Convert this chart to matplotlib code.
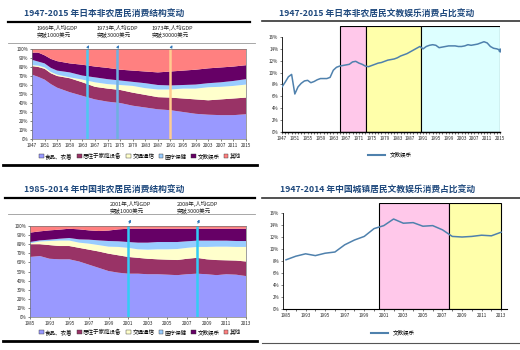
import matplotlib
matplotlib.use('Agg')
import matplotlib.pyplot as plt
from matplotlib.patches import Patch
from matplotlib.lines import Line2D
import numpy as np

plt.rcParams['font.family'] = ['Noto Sans CJK SC', 'DejaVu Sans']

# ---------------- data ----------------
cat_names = ['食品、衣着', '居住于家庭设备', '交通通信', '医疗保健', '文教娱乐', '其他']

jp_years = [1947, 1949, 1951, 1953, 1955, 1959, 1963, 1967, 1971, 1975, 1979,
            1983, 1987, 1991, 1995, 1999, 2003, 2007, 2011, 2015]
jp_food = [71.5, 69, 66, 61, 57, 52, 48, 44, 41.5, 40, 37, 35, 33, 32, 30, 28, 27, 26.5, 26.5, 27.5]
jp_housing = [9.5, 11, 12, 12, 13, 15.5, 15, 14, 14.5, 14.5, 14.5, 14, 13.5, 14, 15, 16, 16, 17.5, 18.5, 18.5]
jp_transport = [1, 1.5, 1.5, 1.5, 1.5, 1, 3, 5, 5, 5.5, 7.5, 7.5, 8.5, 9, 11, 12, 14.5, 14, 14, 14.5]
jp_medical = [6, 4.5, 4.5, 4.5, 4.5, 5.5, 4.5, 5.5, 5.5, 5, 4.5, 5.5, 5, 4.5, 4, 4.5, 4.5, 5, 5.5, 6]
jp_culture = [8, 10, 9, 10, 10.5, 10, 12, 12, 12.5, 12, 12.5, 13, 14, 15.5, 16, 16.5, 16.5, 16.5, 16, 15.5]
jp_other = [4, 4, 7, 11, 13.5, 16, 17.5, 19.5, 21, 23, 24, 25, 26, 25, 24, 23, 21.5, 20.5, 19.5, 18]
jp_events = [1964.5, 1974, 1991]
jp_event_text = ['1966年,人均GDP\n突破1000美元', '1973年,人均GDP\n突破3000美元', '1973年,人均GDP\n突破30000美元']

jp_line_years = list(range(1947, 2016))
jp_line = [7.6, 8.4, 9.3, 9.7, 6.4, 7.6, 8.2, 8.6, 8.7, 8.3, 8.5, 8.8, 9.0, 9.0, 9.0, 9.2,
           10.4, 10.9, 11.1, 11.2, 11.3, 11.4, 11.8, 11.9, 11.6, 11.4, 11.1, 11.0, 11.2,
           11.4, 11.6, 11.7, 11.9, 12.1, 12.2, 12.3, 12.5, 12.8, 13.0, 13.2, 13.5, 13.8,
           14.1, 14.4, 14.0, 14.4, 14.6, 14.7, 14.6, 14.2, 14.3, 14.4, 14.5, 14.5, 14.5,
           14.4, 14.4, 14.5, 14.7, 14.6, 14.7, 14.8, 15.0, 15.2, 15.0, 14.4, 14.1, 14.0, 13.8]
jp_phases = [(1965.2, 1973.3), (1973.3, 1990.3), (1990.3, 2015)]

cn_years = [1985] + list(range(1992, 2014))
cn_food = [66, 67, 64, 63.4, 63.4, 61, 57.5, 54, 50.5, 48.7, 47.6, 47.6, 47, 47, 46.5, 46, 47, 47.6, 47, 46, 47, 46.5, 45]
cn_housing = [14, 13, 15, 14.6, 14.6, 15, 16.5, 18, 19.1, 19.1, 18.4, 17.4, 17, 16.4, 16.5, 16.6, 17, 17.4, 16.4, 16.6, 15.3, 15.5, 16]
cn_transport = [1, 3, 4.5, 6, 6, 5.7, 6.6, 7, 7.7, 9.2, 10, 9.4, 10, 11, 11.4, 12.1, 12, 12, 13.6, 14.7, 15, 15, 16]
cn_medical = [1.4, 1.2, 1.5, 2, 2.8, 3.6, 4.4, 5.2, 6.2, 6.2, 6.4, 7.3, 7.7, 8, 8, 7.7, 7.2, 6.9, 6.9, 6.6, 6.6, 6.5, 6.5]
cn_culture = [10.3, 9.9, 10.2, 10, 10.2, 11, 10.2, 10.3, 11.5, 13.1, 14.6, 15.3, 15.3, 14.6, 14.6, 14.6, 13.8, 13.1, 13.1, 13.1, 13.1, 13.5, 13.5]
cn_other = [7.3, 5.9, 4.8, 4, 3, 3.7, 4.8, 5.5, 5, 3.7, 3, 3, 3, 3, 3, 3, 3, 3, 3, 3, 3, 3, 3]
cn_events = [2001, 2008]
cn_event_text = ['2001年,人均GDP\n突破1000美元', '2008年,人均GDP\n突破3000美元']

cn_line = [8.2, 8.8, 9.2, 8.9, 9.3, 9.5, 10.7, 11.5, 12.1, 13.4, 13.9, 15.0, 14.3, 14.4,
           13.8, 13.9, 13.2, 12.1, 12.0, 12.1, 12.3, 12.2, 12.8]
cn_phases = [(2000.5, 2007.7), (2007.7, 2013)]

# ---------------- styles ----------------
stack_colors = ['#9999FF', '#993366', '#FFFFCC', '#99CCFF', '#660066', '#FF8080']
phase_colors = ['#FFC8EA', '#FFFFAA', '#DDFFFF']
line_color = '#4F81AD'
title_color = '#1F497D'
W, H = 520, 350
fig = plt.figure(figsize=(5.2, 3.5), dpi=100)


def rect(x0, y0, x1, y1):
    return [x0 / W, 1 - y1 / H, (x1 - x0) / W, (y1 - y0) / H]


def hline(x0, x1, y, lw, color):
    fig.add_artist(Line2D([x0 / W, x1 / W], [1 - y / H, 1 - y / H], lw=lw, color=color))


def ftext(x, y, s, **kw):
    fig.text(x / W, 1 - y / H, s, **kw)


def style_ticks(ax):
    ax.tick_params(labelsize=3.3, length=1.5, width=0.4, pad=1.2, colors='#222222')


# rules and titles
hline(8, 250, 22, 1.6, 'black')
hline(262, 520, 21, 1.2, '#333333')
hline(5, 255, 198, 1.6, 'black')
hline(262, 520, 198, 1.2, '#333333')
hline(3, 257, 165, 2.0, 'black')
hline(3, 257, 341, 2.0, 'black')
hline(262, 520, 343, 0.8, '#555555')
hline(8, 255, 43, 0.6, '#999999')
hline(8, 255, 214, 0.6, '#999999')

ftext(104, 14, '1947-2015 年日本非农居民消费结构变动', fontsize=6.3, color=title_color,
      fontweight='bold', ha='center', va='center')
ftext(377, 14, '1947-2015 年日本非农居民文教娱乐消费占比变动', fontsize=6.3, color=title_color,
      fontweight='bold', ha='center', va='center')
ftext(104, 190, '1985-2014 年中国非农居民消费结构变动', fontsize=6.3, color=title_color,
      fontweight='bold', ha='center', va='center')
ftext(378, 190, '1947-2014 年中国城镇居民文教娱乐消费占比变动', fontsize=6.3, color=title_color,
      fontweight='bold', ha='center', va='center')

# ---------------- Japan stacked ----------------
ax1 = fig.add_axes(rect(32, 49, 246, 139))
ax1.stackplot(jp_years, jp_food, jp_housing, jp_transport, jp_medical, jp_culture, jp_other,
              colors=stack_colors, lw=0)
ax1.set_xlim(1947, 2015)
ax1.set_ylim(0, 100)
ax1.set_yticks(range(0, 101, 10))
ax1.set_yticklabels([f'{v}%' for v in range(0, 101, 10)])
ax1.set_xticks(range(1947, 2016, 4))
style_ticks(ax1)
for s in ax1.spines.values():
    s.set_color('#777777'); s.set_linewidth(0.5)
ev_colors = ['#4FC8F0', '#6FB0E0', '#FFCC90']
for xv, c in zip(jp_events, ev_colors):
    ax1.axvline(xv, color=c, lw=1.8)
    ax1.annotate('', xy=(xv + 1.0, 107), xytext=(xv, 100), annotation_clip=False,
                 arrowprops=dict(arrowstyle='-|>', lw=0.6, color='#2E75B6', mutation_scale=3.5))
for xpix, s in zip([37, 97, 152], jp_event_text):
    ftext(xpix, 25, s, fontsize=4, va='top', ha='left', linespacing=1.05, color='#222222')

handles = [Patch(facecolor=c, edgecolor='#333333', lw=0.3) for c in stack_colors]
fig.legend(handles, cat_names, loc='center', bbox_to_anchor=(140 / W, 1 - 156 / H), ncol=6,
           fontsize=4, frameon=False, handlelength=0.8, handleheight=0.8, handletextpad=0.3,
           columnspacing=0.8)

# ---------------- Japan line ----------------
ax2 = fig.add_axes(rect(282, 26, 500, 132))
for (a, b), c in zip(jp_phases, phase_colors):
    ax2.axvspan(a, b, facecolor=c, edgecolor='black', lw=0.8, zorder=1)
ax2.plot(jp_line_years, jp_line, color=line_color, lw=1.1, zorder=3)
ax2.plot(jp_line_years[-1:], jp_line[-1:], 'o', color=line_color, ms=2, zorder=4)
ax2.set_xlim(1947, 2015)
ax2.set_ylim(0, 17.85)
ax2.set_yticks(range(0, 17, 2))
ax2.set_yticklabels([f'{v}%' for v in range(0, 17, 2)])
ax2.set_xticks(range(1947, 2016, 4))
ax2.set_xticks(range(1947, 2016), minor=True)
ax2.tick_params(which='minor', length=1.2, width=0.4)
style_ticks(ax2)
ax2.spines['top'].set_visible(False)
ax2.spines['right'].set_visible(False)
ax2.spines['left'].set_bounds(0, 16)
ax2.spines['left'].set_linewidth(0.6)
ax2.spines['bottom'].set_linewidth(1.0)
fig.legend([Line2D([], [], color=line_color, lw=1.5)], ['文教娱乐'], loc='center',
           bbox_to_anchor=(390 / W, 1 - 155 / H), fontsize=4, frameon=False, handlelength=3)

# ---------------- China stacked ----------------
cn_x = np.arange(len(cn_years))
ax3 = fig.add_axes(rect(30, 226, 246, 317))
ax3.stackplot(cn_x, cn_food, cn_housing, cn_transport, cn_medical, cn_culture, cn_other,
              colors=stack_colors, lw=0)
ax3.set_xlim(0, len(cn_years) - 1)
ax3.set_ylim(0, 100)
ax3.set_yticks(range(0, 101, 10))
ax3.set_yticklabels([f'{v}%' for v in range(0, 101, 10)])
ax3.set_xticks(cn_x[::2])
ax3.set_xticklabels([str(y) for y in cn_years[::2]])
style_ticks(ax3)
for s in ax3.spines.values():
    s.set_color('#777777'); s.set_linewidth(0.5)
for yr in cn_events:
    xi = cn_years.index(yr)
    ax3.axvline(xi, color='#33CCF5', lw=1.8)
    ax3.annotate('', xy=(xi + 0.35, 110), xytext=(xi, 100), annotation_clip=False,
                 arrowprops=dict(arrowstyle='-|>', lw=0.6, color='#2E75B6', mutation_scale=3.5))
for xpix, s in zip([110, 177], cn_event_text):
    ftext(xpix, 201, s, fontsize=4, va='top', ha='left', linespacing=1.05, color='#222222')
fig.legend(handles, cat_names, loc='center', bbox_to_anchor=(140 / W, 1 - 332 / H), ncol=6,
           fontsize=4, frameon=False, handlelength=0.8, handleheight=0.8, handletextpad=0.3,
           columnspacing=0.8)

# ---------------- China line ----------------
ax4 = fig.add_axes(rect(283, 203, 507, 309))
for (a, b), c in zip(cn_phases, phase_colors[:2]):
    ia = np.interp(a, [1999, 2000, 2001, 2007, 2008, 2013], [8, 9, 10, 16, 17, 22])
    ib = np.interp(b, [1999, 2000, 2001, 2007, 2008, 2013], [8, 9, 10, 16, 17, 22])
    ax4.axvspan(ia, ib, facecolor=c, edgecolor='black', lw=0.8, zorder=1)
ax4.plot(cn_x, cn_line, color=line_color, lw=1.1, zorder=3)
ax4.set_xlim(-0.31, 22.6)
ax4.set_ylim(0, 17.67)
ax4.set_yticks(range(0, 17, 2))
ax4.set_yticklabels([f'{v}%' for v in range(0, 17, 2)])
ax4.set_xticks(cn_x[::2])
ax4.set_xticklabels([str(y) for y in cn_years[::2]])
ax4.set_xticks(cn_x, minor=True)
ax4.tick_params(which='minor', length=1.2, width=0.4)
style_ticks(ax4)
ax4.spines['top'].set_visible(False)
ax4.spines['right'].set_visible(False)
ax4.spines['left'].set_bounds(0, 16)
ax4.spines['left'].set_linewidth(0.6)
ax4.spines['bottom'].set_linewidth(0.8)
fig.legend([Line2D([], [], color=line_color, lw=1.5)], ['文教娱乐'], loc='center',
           bbox_to_anchor=(393 / W, 1 - 333 / H), fontsize=4, frameon=False, handlelength=3)

fig.savefig('out.png', dpi=100)
